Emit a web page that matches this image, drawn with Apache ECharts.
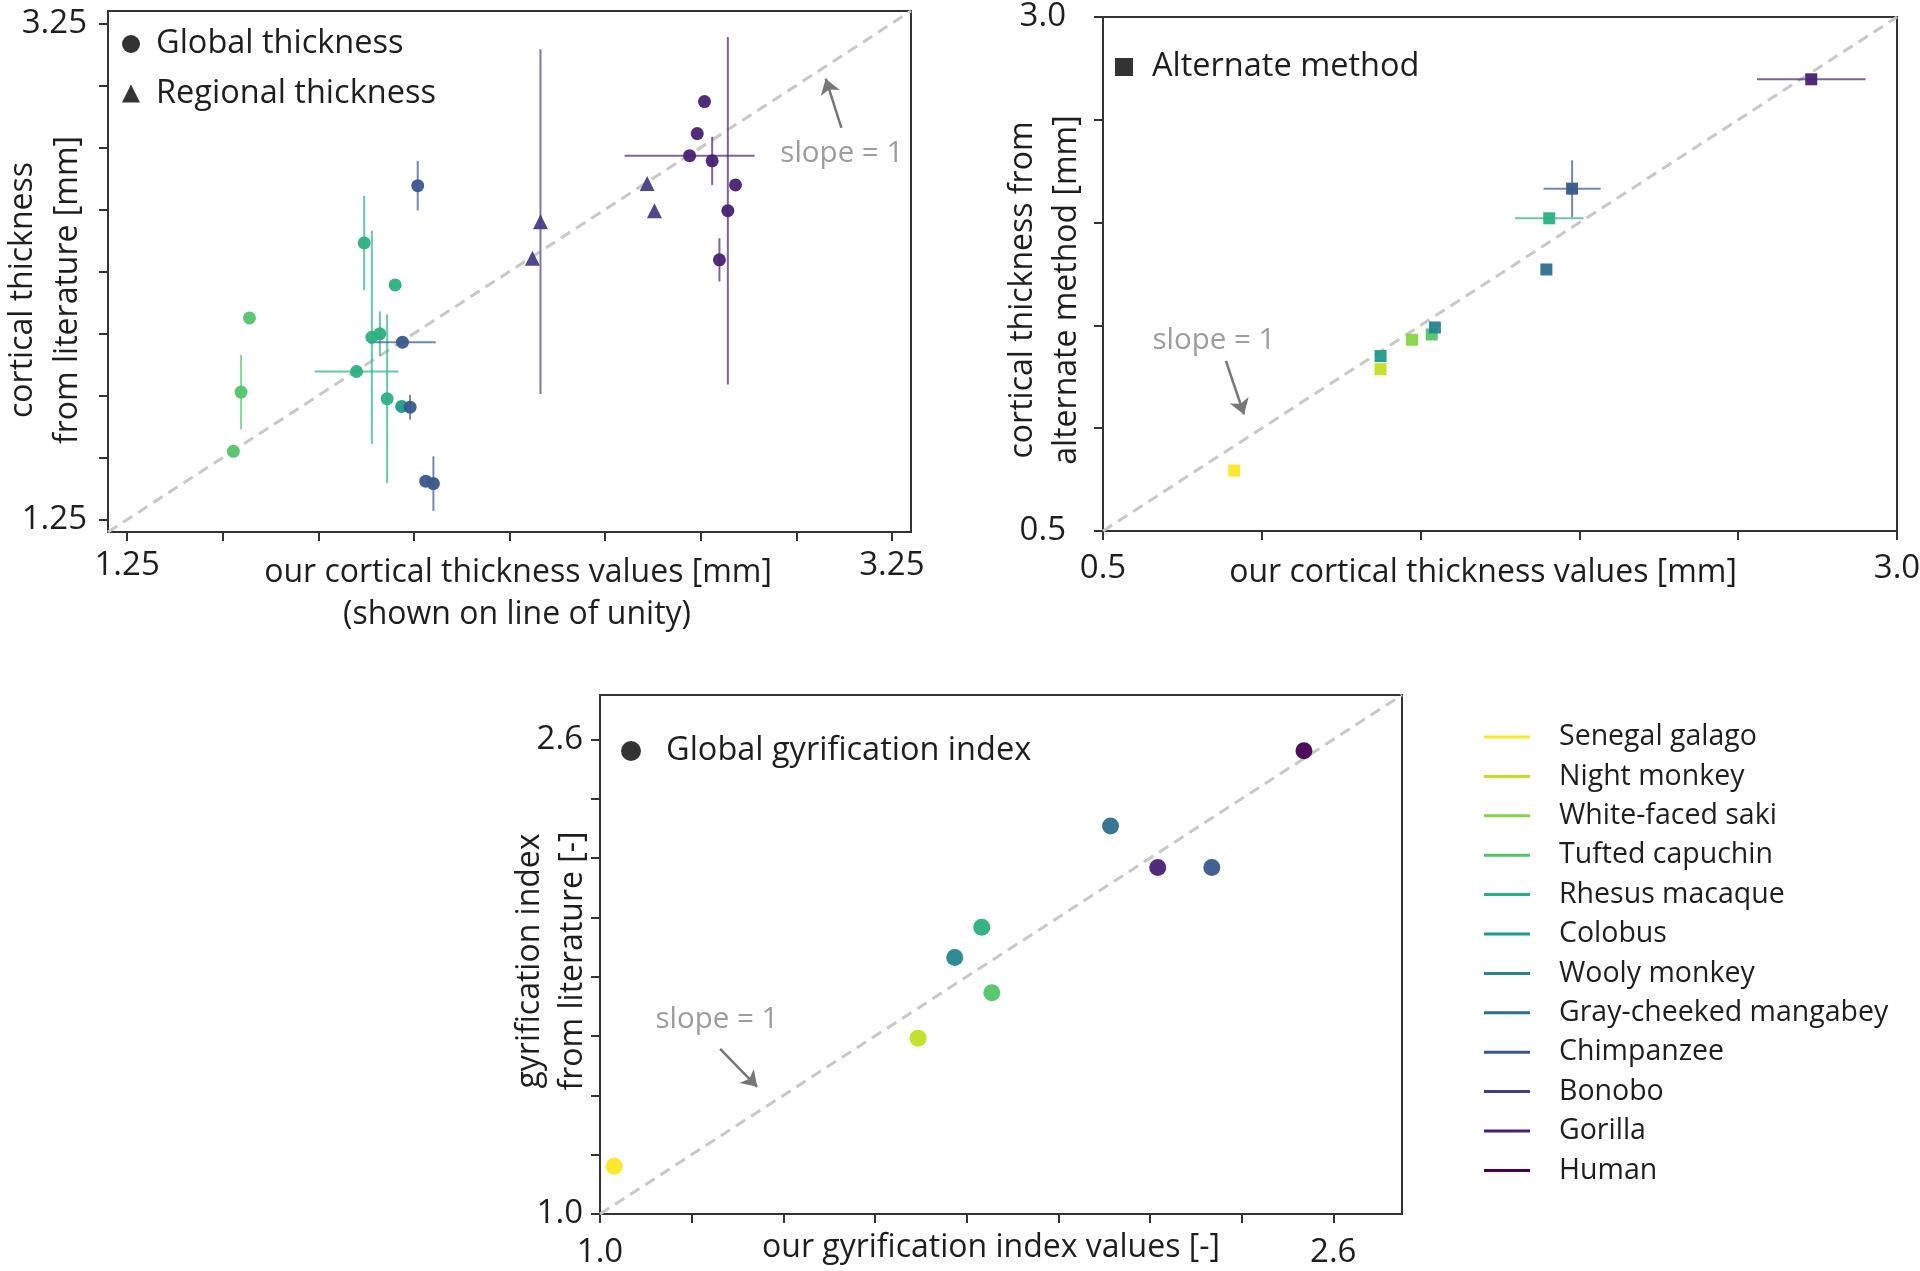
<!DOCTYPE html>
<html>
<head>
<meta charset="utf-8">
<script src="https://cdn.jsdelivr.net/npm/echarts@6/dist/echarts.min.js"></script>
<style>html,body{margin:0;padding:0;background:#fff}#c{width:1920px;height:1271px}</style>
</head>
<body>
<div id="c"></div>
<script>
// ---------- DATA ----------
const species = ['Senegal galago','Night monkey','White-faced saki','Tufted capuchin','Rhesus macaque','Colobus','Wooly monkey','Gray-cheeked mangabey','Chimpanzee','Bonobo','Gorilla','Human'];
const speciesColors = ['#fde725','#c2df23','#86d549','#52c569','#2ab07f','#1e9b8a','#25858e','#2d708e','#38588c','#433e85','#482173','#440154'];

// Panel A: cortical thickness (our value, literature value, species index, x error, y error)
const thicknessRange = [1.2, 3.3];
const thicknessTicks = [1.25, 1.5, 1.75, 2.0, 2.25, 2.5, 2.75, 3.0, 3.25];
const thicknessTickLabels = [1.25, 3.25];
const globalThickness = [
  [1.570, 2.063, 3, 0, 0],
  [1.548, 1.764, 3, 0, 0.15],
  [1.528, 1.525, 3, 0, 0],
  [1.870, 2.365, 4, 0, 0.19],
  [1.951, 2.196, 4, 0, 0],
  [1.890, 1.985, 4, 0, 0.43],
  [1.911, 1.999, 4, 0, 0.09],
  [1.850, 1.847, 4, 0.11, 0],
  [1.930, 1.737, 4, 0, 0.34],
  [1.968, 1.706, 5, 0, 0],
  [1.990, 1.703, 8, 0, 0.05],
  [1.970, 1.965, 8, 0.087, 0],
  [2.010, 2.596, 8, 0, 0.10],
  [2.031, 1.405, 8, 0, 0],
  [2.051, 1.395, 8, 0, 0.11],
  [2.760, 2.935, 10, 0, 0],
  [2.741, 2.806, 10, 0, 0],
  [2.721, 2.717, 10, 0.17, 0],
  [2.780, 2.696, 10, 0, 0.097],
  [2.841, 2.599, 10, 0, 0],
  [2.821, 2.495, 10, 0, 0.70],
  [2.799, 2.297, 10, 0, 0.087]
];
const regionalThickness = [
  [2.331, 2.451, 9, 0, 0.695],
  [2.310, 2.303, 9, 0, 0],
  [2.610, 2.605, 9, 0, 0],
  [2.629, 2.495, 9, 0, 0]
];

// Panel B: alternate method
const altRange = [0.5, 3.0];
const altTicks = [0.5, 1.0, 1.5, 2.0, 2.5, 3.0];
const altTickLabels = [0.5, 3.0];
const alternateMethod = [
  [0.913, 0.794, 0, 0, 0],
  [1.374, 1.287, 1, 0, 0],
  [1.374, 1.351, 5, 0, 0],
  [1.473, 1.430, 2, 0, 0],
  [1.535, 1.456, 3, 0, 0],
  [1.545, 1.490, 6, 0, 0],
  [1.896, 1.772, 7, 0, 0],
  [1.905, 2.021, 4, 0.108, 0],
  [1.977, 2.165, 8, 0.09, 0.138],
  [2.730, 2.697, 10, 0.171, 0]
];

// Panel C: gyrification index
const giRange = [1.0, 2.75];
const giTicks = [1.0, 1.2, 1.4, 1.6, 1.8, 2.0, 2.2, 2.4, 2.6];
const giTickLabels = [1.0, 2.6];
const gyrification = [
  [1.031, 1.161, 0],
  [1.694, 1.593, 1],
  [1.855, 1.746, 3],
  [1.774, 1.865, 6],
  [1.833, 1.967, 4],
  [2.114, 2.308, 7],
  [2.217, 2.168, 10],
  [2.335, 2.168, 8],
  [2.536, 2.562, 11]
];

// "slope = 1" notes: [tailX, tailY, headX, headY, textX, textY] per panel
const slopeNotes = [
  [3.118, 2.829, 3.077, 3.027, 3.119, 2.726],
  [0.887, 1.327, 0.944, 1.067, 0.849, 1.424],
  [1.262, 1.557, 1.343, 1.429, 1.255, 1.656]
];

// ---------- CHART ----------
const FONT = '"Open Sans", "Noto Sans", sans-serif';
const INK = '#1e1e1e';
const chart = echarts.init(document.getElementById('c'), null, {renderer: 'canvas'});

function valueAxis(gridIndex, range, ticks, labels, digits, margin) {
  return {
    type: 'value', gridIndex, min: range[0], max: range[1],
    axisLine: {show: true, onZero: false, lineStyle: {color: '#333', width: 2}},
    axisTick: {show: true, length: 9, customValues: ticks, lineStyle: {color: '#333', width: 2}},
    axisLabel: {show: true, customValues: labels, margin,
      formatter: v => Number(v).toFixed(digits),
      fontFamily: FONT, fontSize: 33, color: INK},
    splitLine: {show: false}
  };
}

function scatterSeries(name, data, gi, symbol, size) {
  return {
    name, type: 'scatter', xAxisIndex: gi, yAxisIndex: gi, symbol, symbolSize: size, z: 4,
    data: data.map(d => ({value: [d[0], d[1]], itemStyle: {color: speciesColors[d[2]], opacity: 0.95}}))
  };
}

function errorSeries(data, gi) {
  return {
    type: 'custom', xAxisIndex: gi, yAxisIndex: gi, silent: true, z: 3,
    data: data.map(d => [d[0], d[1], d[3] || 0, d[4] || 0, d[2]]),
    encode: {x: 0, y: 1},
    renderItem(params, api) {
      const x = api.value(0), y = api.value(1), ex = api.value(2), ey = api.value(3);
      const col = speciesColors[api.value(4)];
      const children = [];
      const st = {stroke: col, lineWidth: 2, opacity: 0.7};
      if (ey > 0) {
        const a = api.coord([x, y - ey]), b = api.coord([x, y + ey]);
        children.push({type: 'line', shape: {x1: a[0], y1: a[1], x2: b[0], y2: b[1]}, style: st});
      }
      if (ex > 0) {
        const a = api.coord([x - ex, y]), b = api.coord([x + ex, y]);
        children.push({type: 'line', shape: {x1: a[0], y1: a[1], x2: b[0], y2: b[1]}, style: st});
      }
      return {type: 'group', children};
    }
  };
}

function diagSeries(range, gi, note) {
  return {
    type: 'line', xAxisIndex: gi, yAxisIndex: gi, silent: true, z: 1,
    symbol: 'none', data: [[range[0], range[0]], [range[1], range[1]]],
    lineStyle: {color: '#c8c8c8', width: 3, type: [11, 7]},
    markLine: {
      silent: true, symbol: ['none', 'arrow'], symbolSize: 15, animation: false,
      lineStyle: {color: '#777', width: 2.5, type: 'solid'},
      label: {show: false},
      data: [[{coord: [note[0], note[1]]}, {coord: [note[2], note[3]]}]]
    }
  };
}

function noteSeries(note, gi) {
  return {
    type: 'scatter', xAxisIndex: gi, yAxisIndex: gi, silent: true, z: 5,
    symbolSize: 1, itemStyle: {color: 'rgba(0,0,0,0)'},
    data: [[note[4], note[5]]],
    label: {show: true, position: 'inside', formatter: 'slope = 1', fontFamily: FONT, fontSize: 29.5, color: '#858585'}
  };
}

function title(text, x, y, rot) {
  return {type: 'text', x, y, rotation: rot ? Math.PI / 2 : 0, silent: true,
    style: {text, fontFamily: FONT, fontSize: 32, fill: INK, align: 'center', verticalAlign: 'middle'}};
}

function keyLegend(name, icon, size, left, centerY, lh, pad) {
  return {
    data: [{name, icon}], orient: 'vertical', left, top: centerY - lh / 2, padding: 0,
    itemWidth: size, itemHeight: size, itemGap: 0, selectedMode: false,
    textStyle: {fontFamily: FONT, fontSize: 32.5, color: INK, lineHeight: lh, padding: [0, 0, 0, pad]}
  };
}

const speciesDummies = species.map((s, i) => ({
  name: s, type: 'line', data: [], xAxisIndex: 0, yAxisIndex: 0,
  itemStyle: {color: speciesColors[i]}, lineStyle: {color: speciesColors[i]}
}));
const keyDummies = [
  ['Global thickness', 'circle'], ['Regional thickness', 'triangle'],
  ['Alternate method', 'rect'], ['Global gyrification index', 'circle']
].map(k => ({name: k[0], type: 'scatter', data: [], xAxisIndex: 0, yAxisIndex: 0, symbol: k[1], itemStyle: {color: '#000'}}));

const option = {
  animation: false,
  backgroundColor: '#fff',
  grid: [
    {left: 108, top: 11, width: 803, height: 521, show: true, borderColor: '#333', borderWidth: 2, outerBoundsMode: 'none', containLabel: false},
    {left: 1103, top: 17, width: 794, height: 514, show: true, borderColor: '#333', borderWidth: 2, outerBoundsMode: 'none', containLabel: false},
    {left: 600, top: 695, width: 802, height: 519, show: true, borderColor: '#333', borderWidth: 2, outerBoundsMode: 'none', containLabel: false}
  ],
  xAxis: [
    valueAxis(0, thicknessRange, thicknessTicks, thicknessTickLabels, 2, 17),
    valueAxis(1, altRange, altTicks, altTickLabels, 1, 21),
    valueAxis(2, giRange, giTicks, giTickLabels, 1, 22)
  ],
  yAxis: [
    valueAxis(0, thicknessRange, thicknessTicks, thicknessTickLabels, 2, 21),
    valueAxis(1, altRange, altTicks, altTickLabels, 1, 37),
    valueAxis(2, giRange, giTicks, giTickLabels, 1, 17)
  ],
  legend: [
    {
      data: species, orient: 'vertical', left: 1484, top: 737 - 19.7, padding: 0,
      icon: 'rect', itemWidth: 46, itemHeight: 3, itemGap: 0, selectedMode: false,
      textStyle: {fontFamily: FONT, fontSize: 28.5, color: INK, lineHeight: 39.4, padding: [0, 0, 0, 24]}
    },
    {
      data: [{name: 'Global thickness', icon: 'circle'}, {name: 'Regional thickness', icon: 'triangle'}],
      orient: 'vertical', left: 122, top: 44 - 24.75, padding: 0,
      itemWidth: 18, itemHeight: 18, itemGap: 0, selectedMode: false,
      textStyle: {fontFamily: FONT, fontSize: 32.5, color: INK, lineHeight: 49.5, padding: [0, 0, 0, 11]}
    },
    keyLegend('Alternate method', 'rect', 18, 1115, 67, 40, 14),
    keyLegend('Global gyrification index', 'circle', 20, 621, 751, 40, 20)
  ],
  graphic: [
    title('our cortical thickness values [mm]', 518, 573, false),
    title('(shown on line of unity)', 517, 615, false),
    title('cortical thickness', 23, 290, true),
    title('from literature [mm]', 68, 290, true),
    title('our cortical thickness values [mm]', 1483, 573, false),
    title('cortical thickness from', 1023, 290, true),
    title('alternate method [mm]', 1067, 290, true),
    title('our gyrification index values [-]', 991, 1248, false),
    title('gyrification index', 530, 961, true),
    title('from literature [-]', 573, 961, true)
  ],
  series: [
    diagSeries(thicknessRange, 0, slopeNotes[0]),
    diagSeries(altRange, 1, slopeNotes[1]),
    diagSeries(giRange, 2, slopeNotes[2]),
    noteSeries(slopeNotes[0], 0),
    noteSeries(slopeNotes[1], 1),
    noteSeries(slopeNotes[2], 2),
    errorSeries(globalThickness, 0),
    errorSeries(regionalThickness, 0),
    errorSeries(alternateMethod, 1),
    scatterSeries('Global thickness', globalThickness, 0, 'circle', 13),
    scatterSeries('Regional thickness', regionalThickness, 0, 'triangle', 15),
    scatterSeries('Alternate method', alternateMethod, 1, 'rect', 12),
    scatterSeries('Global gyrification index', gyrification, 2, 'circle', 17)
  ].concat(speciesDummies)
};
// key legends use dummy black series; plotted series get distinct names so legend icons stay black
option.series.forEach(s => { if (s.type === 'scatter' && s.data.length && s.name) s.name = s.name + ' '; });
option.series = option.series.concat(keyDummies);
chart.setOption(option);
</script>
</body>
</html>
